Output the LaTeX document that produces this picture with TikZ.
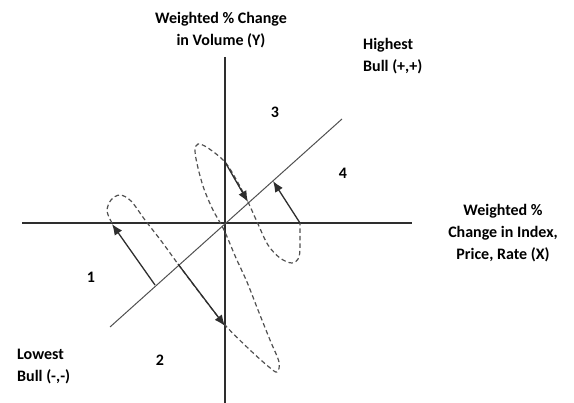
\documentclass[tikz,border=0pt]{standalone}
\usepackage{fontspec}
\setmainfont{Carlito}
\usetikzlibrary{arrows.meta}
\definecolor{axisgray}{HTML}{2E2E2E}
\definecolor{loopgray}{HTML}{505050}
\tikzset{
  axis/.style={draw=axisgray, line width=1.3pt},
  regline/.style={draw=loopgray, line width=1pt},
  shift arrow/.style={draw=axisgray, line width=1.3pt, -{Latex[length=11pt,width=9pt]}},
  loop line/.style={draw=loopgray, line width=1.2pt, dash pattern=on 4.5pt off 3pt},
  lbl/.style={font=\bfseries\fontsize{16}{22}\selectfont, inner sep=0pt},
}
\begin{document}
\begin{tikzpicture}[x=1pt, y=-1pt]
  \useasboundingbox (0,0) rectangle (574,403);
  % axes and the regression line through the origin
  \coordinate (O) at (225,223);
  \coordinate (xl) at (22,223);
  \coordinate (xr) at (412,223);
  \coordinate (yt) at (225,57);
  \coordinate (yb) at (225,403);
  \coordinate (dl) at (110,327);
  \coordinate (du) at (342,119);
  \draw[axis] (xl) -- (xr);
  \draw[axis] (yt) -- (yb);
  \draw[regline] (dl) -- (du);
  % the two dashed loops, drawn as one stroke
  \draw[loop line] plot[smooth, tension=0.55] coordinates {
    (112,223) (107,211) (111,200) (120,195) (131,201) (145,220) (162,242)
    (178,264) (202,296) (225,325) (250,350) (269,367) (277,372) (279,362)
    (270,340) (258,310) (247,282) (236,258) (224,230) (213,210) (204,189)
    (198,168) (195,151) (198,144) (208,148) (225,162) (237,181) (248,202)
    (258,224) (268,245) (280,258) (292,263) (299,257) (300,240) (300,223)};
  % shifts between the line and the axes
  \coordinate (a1) at (155,285);
  \coordinate (a2) at (112,224);
  \coordinate (b1) at (178,264);
  \coordinate (b2) at (225,326);
  \coordinate (c1) at (225,162);
  \coordinate (c2) at (248,202);
  \coordinate (d1) at (300,223);
  \coordinate (d2) at (273,181);
  \draw[shift arrow] (a1) -- (a2);
  \draw[shift arrow] (b1) -- (b2);
  \draw[shift arrow] (c1) -- (c2);
  \draw[shift arrow] (d1) -- (d2);
  % labels
  \node[lbl, align=center] (ylabel) at (221,30) {Weighted \% Change\\in Volume  (Y)};
  \node[lbl, align=center] (xlabel) at (503,233) {Weighted \%\\Change in  Index,\\Price, Rate (X)};
  \node[lbl, align=left, anchor=west] (highest) at (363,56) {Highest\\Bull  (+,+)};
  \node[lbl, align=left, anchor=west] (lowest) at (17,367) {Lowest\\Bull (-,-)};
  \node[lbl] (q1) at (91,277) {1};
  \node[lbl] (q2) at (160,360) {2};
  \node[lbl] (q3) at (275,112) {3};
  \node[lbl] (q4) at (343,173) {4};
\end{tikzpicture}
\end{document}
